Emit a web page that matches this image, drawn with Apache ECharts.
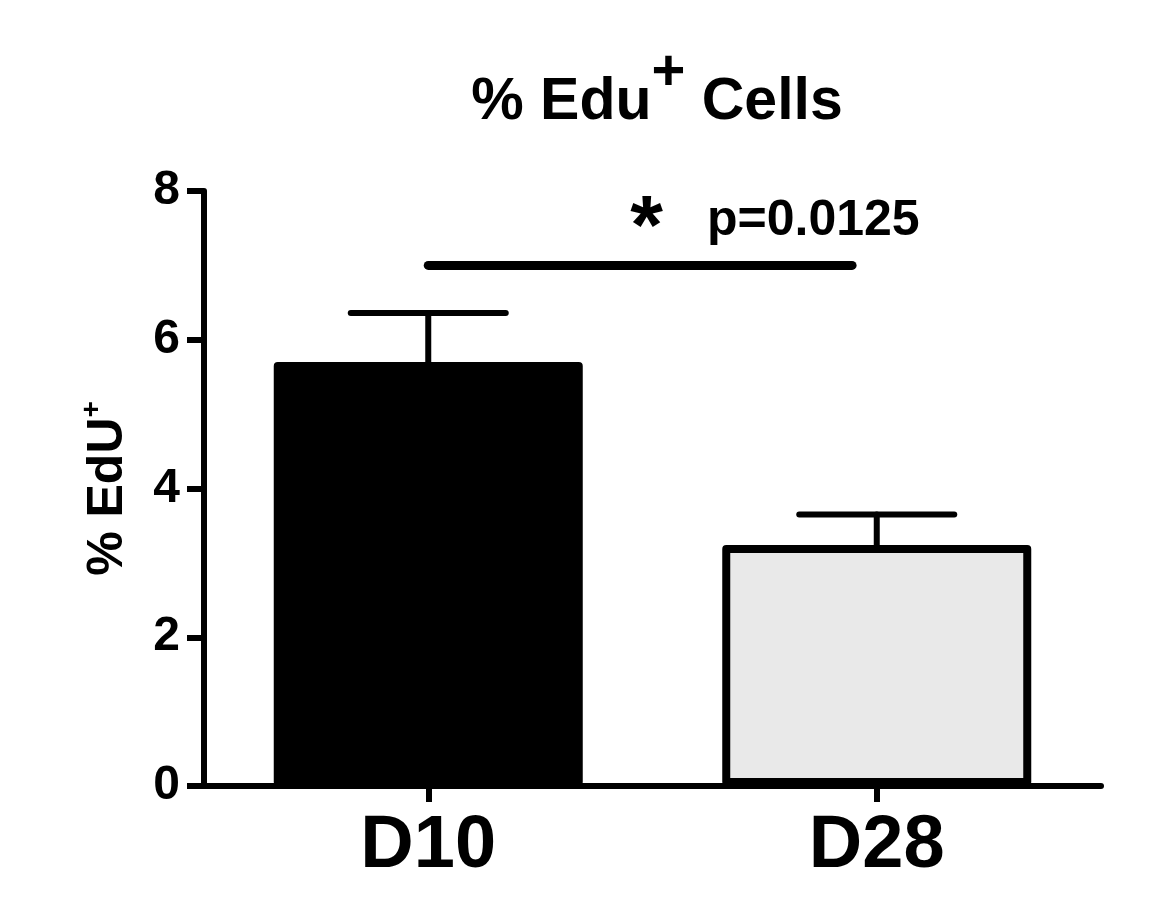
<!DOCTYPE html>
<html>
<head>
<meta charset="utf-8">
<script src="https://cdn.jsdelivr.net/npm/echarts@6/dist/echarts.min.js"></script>
<style>
html,body{margin:0;padding:0;background:#fff;}
#chart{width:1153px;height:914px;}
</style>
</head>
<body>
<div id="chart"></div>
<script>
// ---- data ----
const categories = ['D10', 'D28'];
const means = [5.70, 3.24];
const sems = [0.66, 0.41];
const barColors = ['#000000', '#e9e9e9'];
const yTicks = [0, 2, 4, 6, 8];
const sigLineX = [0.0, 0.945];
const sigLineY = 7.0;
const starPos = [0.487, 7.46];
const pTextPos = [0.6215, 7.6];
const pText = 'p=0.0125';

const FONT = "'Liberation Sans', Arial, sans-serif";

const chart = echarts.init(document.getElementById('chart'), null, {renderer: 'canvas'});

const option = {
  backgroundColor: '#ffffff',
  animation: false,
  title: {
    text: '{m|% Edu}{s|+}{m| Cells}',
    left: 652,
    top: 38,
    textAlign: 'center',
    textStyle: {
      rich: {
        m: {fontFamily: FONT, fontWeight: 'bold', fontSize: 59, color: '#000', lineHeight: 120},
        s: {fontFamily: FONT, fontWeight: 'bold', fontSize: 58, color: '#000', lineHeight: 58, padding: [0, 0, 58, 0]}
      }
    }
  },
  grid: {left: 204, right: 52, top: 191, bottom: 128, containLabel: false},
  xAxis: [{
    type: 'category',
    data: categories,
    axisLine: {show: true, lineStyle: {color: '#000', width: 6}},
    axisTick: {show: true, alignWithLabel: true, length: 16, lineStyle: {color: '#000', width: 6}},
    axisLabel: {fontFamily: FONT, fontWeight: 'bold', fontSize: 74, color: '#000', margin: 24},
    splitLine: {show: false}
  }, {
    type: 'value',
    min: -0.5,
    max: 1.5,
    show: false
  }],
  yAxis: {
    type: 'value',
    min: yTicks[0],
    max: yTicks[yTicks.length - 1],
    interval: 2,
    axisLine: {show: true, onZero: false, lineStyle: {color: '#000', width: 6}},
    axisTick: {show: true, length: 17, lineStyle: {color: '#000', width: 6}},
    axisLabel: {fontFamily: FONT, fontWeight: 'bold', fontSize: 48, color: '#000', margin: 24},
    splitLine: {show: false},
    name: '{m|% EdU}{s|+}',
    nameLocation: 'middle',
    nameGap: 66,
    nameRotate: 90,
    nameTextStyle: {
      rich: {
        m: {fontFamily: FONT, fontWeight: 'bold', fontSize: 50, color: '#000', lineHeight: 60},
        s: {fontFamily: FONT, fontWeight: 'bold', fontSize: 28, color: '#000', lineHeight: 14, verticalAlign: 'top'}
      }
    }
  },
  series: [{
    type: 'bar',
    xAxisIndex: 0,
    barWidth: 309,
    data: means.map((v, i) => ({value: v, itemStyle: {color: barColors[i]}})),
    itemStyle: {borderColor: '#000', borderWidth: 8, borderJoin: 'round'},
    z: 3
  }, {
    type: 'custom',
    xAxisIndex: 0,
    data: means.map((v, i) => [i, v, v + sems[i]]),
    renderItem: function (params, api) {
      const x = api.value(0);
      const p0 = api.coord([x, api.value(1)]);
      const p1 = api.coord([x, api.value(2)]);
      const half = 77.5;
      const st = {stroke: '#000', lineWidth: 6, lineCap: 'round'};
      return {
        type: 'group',
        children: [
          {type: 'line', shape: {x1: p0[0], y1: p0[1], x2: p1[0], y2: p1[1]}, style: st},
          {type: 'line', shape: {x1: p1[0] - half, y1: p1[1], x2: p1[0] + half, y2: p1[1]}, style: st}
        ]
      };
    },
    z: 2
  }, {
    type: 'line',
    xAxisIndex: 1,
    data: sigLineX.map(x => [x, sigLineY]),
    symbol: 'none',
    lineStyle: {color: '#000', width: 9, cap: 'round'},
    z: 4
  }, {
    type: 'scatter',
    xAxisIndex: 1,
    symbolSize: 0,
    itemStyle: {opacity: 1},
    data: [
      {value: starPos, label: {formatter: '*', fontSize: 84, align: 'center', color: '#000'}},
      {value: pTextPos, label: {formatter: pText, fontSize: 50, align: 'left', color: '#000'}}
    ],
    label: {show: true, position: 'inside', verticalAlign: 'middle', fontFamily: FONT, fontWeight: 'bold', color: '#000'},
    z: 5
  }]
};
chart.setOption(option);
</script>
</body>
</html>
